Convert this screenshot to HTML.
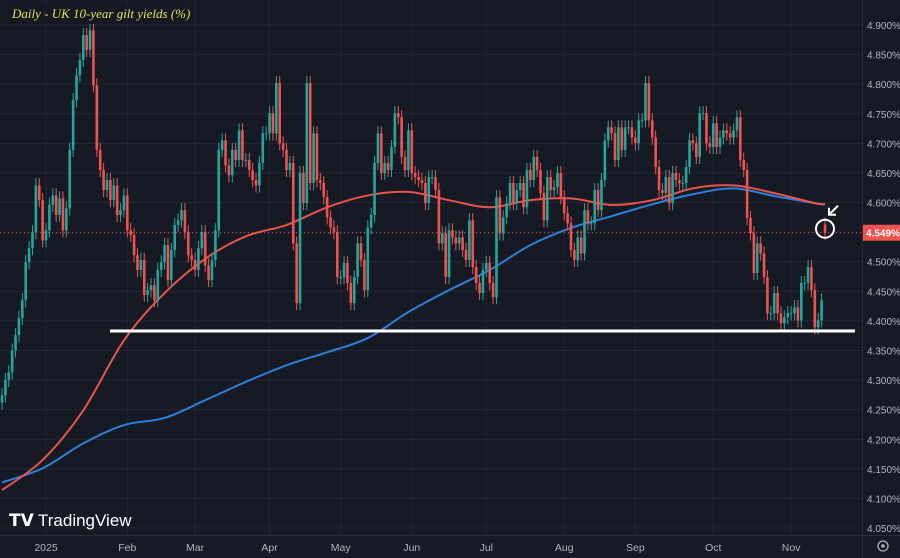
<!DOCTYPE html>
<html><head><meta charset="utf-8"><style>
html,body{margin:0;padding:0;background:#161a25;}
svg{display:block;font-family:"Liberation Sans",sans-serif;}
</style></head><body>
<svg id="chart" width="900" height="558" viewBox="0 0 900 558">
<rect x="0" y="0" width="900" height="558" fill="#161a25"/>
<g id="grid"></g>
<g id="yaxis"></g>
<g id="xaxis"></g>
<g id="mas"></g>
<g id="candles"></g>
<g id="overlay"></g>
<rect x="8" y="4" width="176" height="20" fill="#161a25" opacity="0.9"/>
<text x="12" y="18" font-family="'Liberation Serif',serif" font-style="italic" font-size="13" fill="#e3e34f">Daily - UK 10-year gilt yields (%)</text>
<g>
<text x="9" y="526" font-size="17" font-weight="bold" fill="#ffffff" font-family="'Liberation Sans',sans-serif">𝗧𝗩</text>
<text x="38" y="526" font-size="17" fill="#ffffff" font-family="'Liberation Sans',sans-serif">TradingView</text>
</g>
<g><circle cx="883" cy="546" r="5" fill="none" stroke="#b2b5be" stroke-width="1.3"/><circle cx="883" cy="546" r="1.8" fill="#b2b5be"/></g>
</svg>
<script>
const closes=[4.274,4.300,4.313,4.350,4.376,4.405,4.435,4.499,4.523,4.550,4.629,4.604,4.536,4.553,
4.596,4.612,4.579,4.607,4.553,4.590,
4.689,4.773,4.815,4.841,4.883,4.858,4.891,
4.798,4.689,4.655,4.621,4.638,4.604,4.629,4.579,4.587,4.612,4.553,
4.545,4.511,4.486,4.503,4.444,4.452,4.460,4.435,4.486,4.499,4.528,4.469,
4.520,4.562,4.570,4.587,4.550,4.511,4.503,4.486,4.523,4.550,4.494,4.469,4.503,4.553,
4.689,4.705,4.663,4.646,4.689,4.672,
4.722,4.672,4.672,4.655,4.638,4.629,4.667,4.717,4.717,4.751,4.717,4.802,4.700,4.689,4.655,4.667,4.531,
4.430,4.650,4.599,4.802,4.633,4.717,4.638,4.633,4.609,4.575,4.558,4.550,4.474,4.474,4.498,4.464,4.430,4.474,4.531,4.503,4.452,4.558,4.579,4.667,4.717,4.650,4.667,4.655,4.694,4.751,4.744,4.677,4.655,4.722,4.650,4.643,4.638,4.633,4.599,4.643,4.643,4.621,4.531,4.548,4.474,4.553,4.541,
4.531,4.541,4.520,4.503,4.570,4.491,4.464,4.447,4.486,4.498,4.464,4.440,4.609,4.548,4.575,4.599,4.633,4.599,4.621,4.633,4.592,4.655,4.638,4.677,4.655,4.616,4.570,4.643,4.621,4.626,4.650,4.609,4.582,4.565,4.520,4.503,4.541,4.514,4.587,4.565,4.565,4.621,4.587,4.638,4.705,4.727,4.717,4.672,4.727,4.689,4.727,4.727,4.710,4.700,4.739,4.739,4.802,
4.739,4.710,4.660,4.621,4.616,4.643,4.599,4.650,4.638,4.633,4.633,4.660,4.705,4.700,4.677,4.751,4.751,4.700,4.694,4.734,4.694,4.710,4.722,4.717,4.710,4.722,4.744,4.672,4.655,4.574,4.548,4.481,4.531,4.514,4.474,4.413,4.413,4.447,4.413,4.396,4.406,4.413,4.413,4.423,4.401,4.464,4.464,4.491,4.452,4.389,4.401,4.435,4.549];
const firstOpen=4.262;
const lastOpen=4.563;
const maIndex=[0,12,24,36,48,60,72,84,96,108,120,132,144,156,168,180,192,204,216,228,240,243];
const maRed=[4.114,4.165,4.249,4.367,4.447,4.505,4.543,4.562,4.592,4.612,4.618,4.604,4.592,4.604,4.607,4.596,4.604,4.624,4.629,4.616,4.599,4.597];
const maBlue=[4.127,4.151,4.193,4.224,4.236,4.266,4.297,4.325,4.347,4.371,4.415,4.452,4.486,4.528,4.557,4.577,4.597,4.614,4.624,4.611,4.599,4.597];
const yTicks=[4.05,4.10,4.15,4.20,4.25,4.30,4.35,4.40,4.45,4.50,4.55,4.60,4.65,4.70,4.75,4.80,4.85,4.90];
const monthLabels=["2025","Feb","Mar","Apr","May","Jun","Jul","Aug","Sep","Oct","Nov"];
const monthIndex=[13,37,57,79,100,121,143,166,187,210,233];
const supportLevel=4.383;
const lastPrice=4.549;

const NS="http://www.w3.org/2000/svg";
const plotRight=862, plotBottom=535;
const y=v=>25+(4.9-v)/0.05*29.59;
const step=823/(closes.length-1);
const x=i=>2+i*step;
function mk(tag,attrs,parent){const e=document.createElementNS(NS,tag);for(const k in attrs)e.setAttribute(k,attrs[k]);parent.appendChild(e);return e;}
const grid=document.getElementById('grid'),yax=document.getElementById('yaxis'),xax=document.getElementById('xaxis');
yTicks.forEach(t=>{
 const l=mk('line',{x1:0,x2:plotRight,y1:y(t),y2:y(t),stroke:'#232734','stroke-width':1},grid);
 
 
 const tx=mk('text',{x:867,y:y(t)+4,'font-size':10,fill:'#b2b5be'},yax);
 tx.textContent=t.toFixed(3)+'%';
 
 
});
monthIndex.forEach((mi,k)=>{
 const l=mk('line',{x1:x(mi),x2:x(mi),y1:0,y2:plotBottom,stroke:'#232734','stroke-width':1},grid);
 
 
 const tx=mk('text',{x:x(mi),y:551,'font-size':10.5,fill:'#b2b5be','text-anchor':'middle'},xax);
 tx.textContent=monthLabels[k];
 
 
});
mk('line',{x1:plotRight+0.5,x2:plotRight+0.5,y1:0,y2:558,stroke:'#2a2e39'},grid);
mk('line',{x1:0,x2:900,y1:plotBottom+0.5,y2:plotBottom+0.5,stroke:'#2a2e39'},grid);
const pl=mk('line',{x1:0,x2:plotRight,y1:y(lastPrice),y2:y(lastPrice),stroke:'#ef5350','stroke-width':1,'stroke-dasharray':'1 3'},grid);


function smoothPath(idx,vals){
 const p=idx.map((ix,k)=>[x(ix),y(vals[k])]);
 let d='M'+p[0][0]+','+p[0][1];
 for(let i=0;i<p.length-1;i++){
  const p0=p[Math.max(0,i-1)],p1=p[i],p2=p[i+1],p3=p[Math.min(p.length-1,i+2)];
  const c1=[p1[0]+(p2[0]-p0[0])/6,p1[1]+(p2[1]-p0[1])/6],c2=[p2[0]-(p3[0]-p1[0])/6,p2[1]-(p3[1]-p1[1])/6];
  d+=' C'+c1+' '+c2+' '+p2;
 }
 return d;
}
const mas=document.getElementById('mas');
const mb=mk('path',{d:smoothPath(maIndex,maBlue),fill:'none',stroke:'#2f7fd8','stroke-width':2},mas);


const mr=mk('path',{d:smoothPath(maIndex,maRed),fill:'none',stroke:'#e8534f','stroke-width':2},mas);


const cg=document.getElementById('candles');
closes.forEach((c,i)=>{
 const o=i===0?firstOpen:(i===closes.length-1?lastOpen:closes[i-1]);
 const up=c>=o, col=up?'#26a69a':'#ef5350';
 const hi=Math.max(o,c)+0.012, lo=Math.min(o,c)-0.012;
 const g=mk('g',{},cg);
 
 
 mk('line',{x1:x(i),x2:x(i),y1:y(hi),y2:y(lo),stroke:col,'stroke-width':1},g);
 const top=y(Math.max(o,c)),h=Math.max(1,Math.abs(y(o)-y(c)));
 mk('rect',{x:x(i)-1.3,y:top,width:2.6,height:h,fill:col},g);
});
const ov=document.getElementById('overlay');
const sl=mk('line',{x1:110,x2:855,y1:y(supportLevel),y2:y(supportLevel),stroke:'#ffffff','stroke-width':3},ov);


const li=closes.length-1;
const ci=mk('circle',{cx:x(li),cy:y(lastPrice)-4,r:9,fill:'none',stroke:'#ffffff','stroke-width':2},ov);


const ar=mk('path',{d:`M${x(li)+13},${y(lastPrice)-27} L${x(li)+5},${y(lastPrice)-19} M${x(li)+4},${y(lastPrice)-25} L${x(li)+4},${y(lastPrice)-18} L${x(li)+11},${y(lastPrice)-18}`,fill:'none',stroke:'#ffffff','stroke-width':2},ov);


const lb=mk('rect',{x:863,y:y(lastPrice)-8,width:37,height:16,fill:'#ef5350'},ov);


const lt=mk('text',{x:866,y:y(lastPrice)+4,'font-size':10,'font-weight':'bold',fill:'#ffffff'},ov);
lt.textContent=lastPrice.toFixed(3)+'%';


</script>
</body></html>
